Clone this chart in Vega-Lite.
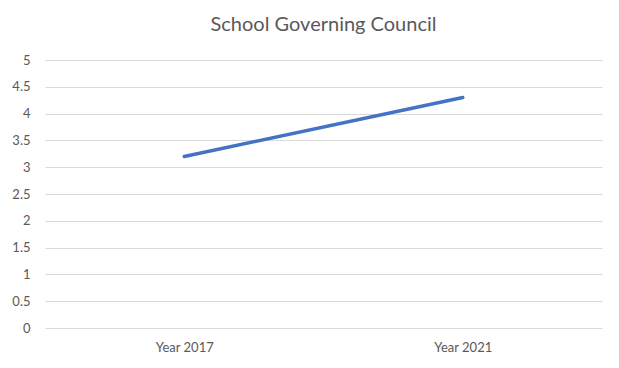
{
  "$schema": "https://vega.github.io/schema/vega-lite/v6.json",
  "width": 557,
  "height": 268,
  "autosize": {"type": "none"},
  "padding": {"left": 45, "top": 60, "right": 17, "bottom": 40},
  "background": "white",
  "title": {
    "text": "School Governing Council",
    "font": "Lato",
    "fontSize": 20,
    "fontWeight": "normal",
    "color": "#595959",
    "anchor": "middle",
    "offset": 19
  },
  "data": {
    "values": [
      {"year": "Year 2017", "value": 3.2},
      {"year": "Year 2021", "value": 4.3}
    ]
  },
  "mark": {"type": "line", "color": "#4472C4", "strokeWidth": 3.5, "strokeCap": "round"},
  "encoding": {
    "x": {
      "field": "year",
      "type": "nominal",
      "scale": {"type": "point", "padding": 0.5},
      "axis": {
        "title": null,
        "labelAngle": 0,
        "ticks": false,
        "domain": false,
        "grid": false,
        "labelFont": "Lato",
        "labelFontSize": 13,
        "labelColor": "#595959",
        "labelPadding": 13
      }
    },
    "y": {
      "field": "value",
      "type": "quantitative",
      "scale": {"domain": [0, 5], "nice": false},
      "axis": {
        "title": null,
        "values": [0, 0.5, 1, 1.5, 2, 2.5, 3, 3.5, 4, 4.5, 5],
        "format": "~g",
        "ticks": false,
        "domain": false,
        "gridColor": "#d9d9d9",
        "gridWidth": 1,
        "labelFont": "Lato",
        "labelFontSize": 13,
        "labelColor": "#595959",
        "labelPadding": 15
      }
    }
  },
  "config": {"view": {"stroke": null}}
}
